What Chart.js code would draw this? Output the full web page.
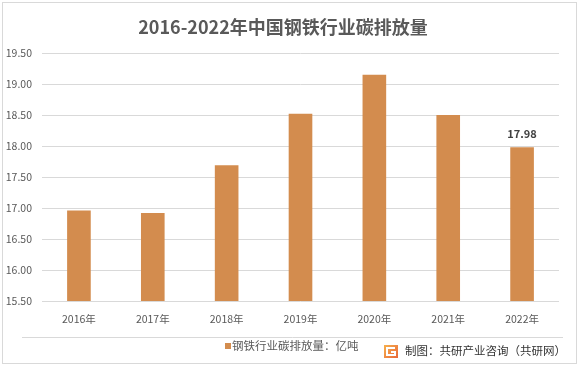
<!DOCTYPE html>
<html>
<head>
<meta charset="utf-8">
<script src="https://cdn.jsdelivr.net/npm/chart.js@4"></script>
<style>
  html, body { margin: 0; padding: 0; background: #fff; }
  #wrap { width: 579px; height: 368px; position: relative; }
</style>
</head>
<body>
<div id="wrap"><canvas id="chart" width="579" height="368"></canvas></div>
<script>
// data
const years = ["2016年", "2017年", "2018年", "2019年", "2020年", "2021年", "2022年"];
const emissions = [16.96, 16.92, 17.69, 18.52, 19.15, 18.50, 17.98];
const labelledIndex = [6]; // only the last bar carries a value label
const yMin = 15.5;
const yMax = 19.5;
const yStep = 0.5;

const titleText = "2016-2022年中国钢铁行业碳排放量";
const seriesName = "钢铁行业碳排放量：亿吨";
const sourceText = "制图：共研产业咨询（共研网）";

const FONT = "'Noto Sans CJK SC', 'Noto Sans', sans-serif";
const BAR = "#d38c4e";
const TEXT = "#595959";

// title, legend, source line, frame and the single data label
const decor = {
  id: "decor",
  beforeDraw(chart) {
    const c = chart.ctx;
    c.save();
    c.fillStyle = "#fff";
    c.fillRect(0, 0, chart.width, chart.height);
    c.restore();
  },
  afterDraw(chart) {
    const c = chart.ctx;
    c.save();
    // frame
    c.strokeStyle = "#d9d9d9";
    c.lineWidth = 1;
    c.strokeRect(2.5, 2.5, 574, 361);

    // title
    c.fillStyle = TEXT;
    c.font = "bold 18px " + FONT;
    c.textAlign = "center";
    c.textBaseline = "middle";
    c.fillText(titleText, 283, 27);

    // separator above legend
    c.strokeStyle = "#d9d9d9";
    c.beginPath();
    c.moveTo(22, 337.5);
    c.lineTo(563, 337.5);
    c.stroke();

    // legend
    c.fillStyle = chart.data.datasets[0].backgroundColor;
    c.fillRect(225, 343, 6, 6);
    c.fillStyle = TEXT;
    c.font = "11.5px " + FONT;
    c.textAlign = "left";
    c.fillText(chart.data.datasets[0].label, 232, 346);

    // source logo + text
    const g = c.createLinearGradient(384, 345, 398, 358);
    g.addColorStop(0, "#f7b04c");
    g.addColorStop(1, "#e8673a");
    c.fillStyle = g;
    c.fillRect(384, 345, 14, 13);
    c.strokeStyle = "#fff";
    c.lineWidth = 2;
    c.beginPath();
    c.moveTo(395, 348);
    c.lineTo(387, 348);
    c.lineTo(387, 355);
    c.lineTo(395, 355);
    c.lineTo(395, 352);
    c.lineTo(391, 352);
    c.stroke();
    c.fillStyle = "#333";
    c.font = "11.5px " + FONT;
    c.fillText(sourceText, 405, 351);

    // value label on the last bar
    const meta = chart.getDatasetMeta(0);
    c.fillStyle = "#404040";
    c.font = "bold 11px " + FONT;
    c.textAlign = "center";
    labelledIndex.forEach((i) => {
      const bar = meta.data[i];
      c.fillText(emissions[i].toFixed(2), bar.x, bar.y - 13);
    });
    c.restore();
  },
};

new Chart(document.getElementById("chart"), {
  type: "bar",
  data: {
    labels: years,
    datasets: [
      {
        label: seriesName,
        data: emissions,
        backgroundColor: BAR,
        borderWidth: 0,
        categoryPercentage: 0.32,
        barPercentage: 1,
      },
    ],
  },
  options: {
    responsive: false,
    animation: false,
    layout: { padding: { left: 0, right: 20, top: 53, bottom: 31 } },
    plugins: {
      legend: { display: false },
      title: { display: false },
      tooltip: { enabled: false },
    },
    scales: {
      x: {
        grid: { display: false, drawTicks: false },
        border: { display: false },
        ticks: {
          color: TEXT,
          font: { family: FONT, size: 10.5 },
          padding: 12,
          maxRotation: 0,
        },
        afterFit: (s) => { s.height = 36; },
      },
      y: {
        min: yMin,
        max: yMax,
        grid: { color: "#d9d9d9", drawTicks: false },
        border: { display: false },
        ticks: {
          stepSize: yStep,
          color: TEXT,
          font: { family: FONT, size: 10.5 },
          padding: 10,
          callback: (v) => Number(v).toFixed(2),
        },
        afterFit: (s) => { s.width = 42; },
      },
    },
  },
  plugins: [decor],
});
</script>
</body>
</html>
